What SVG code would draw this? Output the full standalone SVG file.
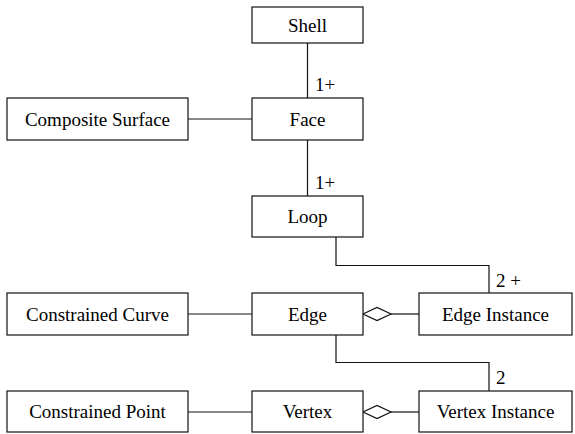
<svg xmlns="http://www.w3.org/2000/svg" width="575" height="434" viewBox="0 0 575 434">
<rect width="575" height="434" fill="#fff"/>
<g id="connectors" fill="none" stroke="#111" stroke-width="1.2">
<line x1="307.5" y1="43" x2="307.5" y2="98"/>
<line x1="188" y1="119" x2="252" y2="119"/>
<line x1="307.5" y1="140" x2="307.5" y2="196"/>
<polyline points="336,237 336,265.5 489,265.5 489,293"/>
<line x1="188" y1="314" x2="252" y2="314"/>
<line x1="391" y1="314" x2="419" y2="314"/>
<polygon fill="#fff" points="363,314 377,307.5 391,314 377,320.5"/>
<polyline points="336,335 336,362.5 489,362.5 489,391"/>
<line x1="188" y1="412" x2="252" y2="412"/>
<line x1="391" y1="412" x2="419" y2="412"/>
<polygon fill="#fff" points="363,412 377,405.5 391,412 377,418.5"/>
<g font-family="Liberation Serif" font-size="19" fill="#000" stroke="none">
<text x="315" y="91">1+</text>
<text x="315" y="189">1+</text>
<text x="496" y="287">2 +</text>
<text x="496" y="384">2</text>
</g>
</g>
<g font-family="Liberation Serif" font-size="19" text-anchor="middle">
<g id="shell"><rect fill="#fff" stroke="#111" stroke-width="1.2" x="252" y="7" width="111" height="36"/><text x="307.5" y="32">Shell</text></g>
<g id="face"><rect fill="#fff" stroke="#111" stroke-width="1.2" x="252" y="98" width="111" height="42"/><text x="307.5" y="126">Face</text></g>
<g id="composite-surface"><rect fill="#fff" stroke="#111" stroke-width="1.2" x="7" y="98" width="181" height="42"/><text x="97.5" y="126">Composite Surface</text></g>
<g id="loop"><rect fill="#fff" stroke="#111" stroke-width="1.2" x="252" y="196" width="111" height="41"/><text x="307.5" y="223">Loop</text></g>
<g id="constrained-curve"><rect fill="#fff" stroke="#111" stroke-width="1.2" x="7" y="293" width="181" height="42"/><text x="97.5" y="321">Constrained Curve</text></g>
<g id="edge"><rect fill="#fff" stroke="#111" stroke-width="1.2" x="252" y="293" width="111" height="42"/><text x="307.5" y="321">Edge</text></g>
<g id="edge-instance"><rect fill="#fff" stroke="#111" stroke-width="1.2" x="419" y="293" width="153" height="42"/><text x="495.5" y="321">Edge Instance</text></g>
<g id="constrained-point"><rect fill="#fff" stroke="#111" stroke-width="1.2" x="7" y="391" width="181" height="41"/><text x="97.5" y="418">Constrained Point</text></g>
<g id="vertex"><rect fill="#fff" stroke="#111" stroke-width="1.2" x="252" y="391" width="111" height="41"/><text x="307.5" y="418">Vertex</text></g>
<g id="vertex-instance"><rect fill="#fff" stroke="#111" stroke-width="1.2" x="419" y="391" width="153" height="41"/><text x="495.5" y="418">Vertex Instance</text></g>
</g>
</svg>
